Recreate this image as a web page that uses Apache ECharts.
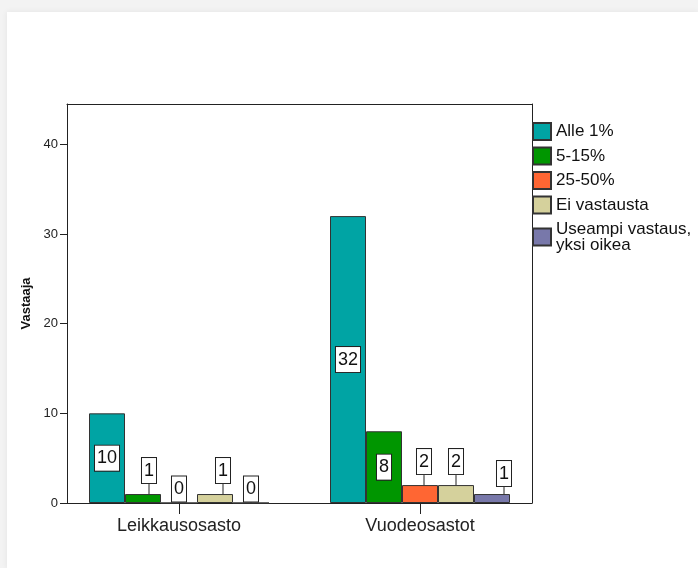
<!DOCTYPE html>
<html><head><meta charset="utf-8">
<script src="https://cdn.jsdelivr.net/npm/echarts@6/dist/echarts.min.js"></script>
<style>
html,body{margin:0;padding:0;width:698px;height:568px;overflow:hidden;background:#f3f3f3;}
#card{position:absolute;left:7px;top:12px;right:0;bottom:0;background:#fff;box-shadow:0 0 6px rgba(0,0,0,0.07);}
#chart{position:absolute;left:0;top:0;width:698px;height:568px;}
</style></head><body>
<div id="card"></div><div id="chart"></div>
<script>
// ---- data ----
var categories = ['Leikkausosasto', 'Vuodeosastot'];
var seriesNames = ['Alle 1%', '5-15%', '25-50%', 'Ei vastausta', 'Useampi vastaus,\nyksi oikea'];
var alle1 = [10, 32];
var p5to15 = [1, 8];
var p25to50 = [0, 2];
var eiVastausta = [1, 2];
var useampi = [0, 1];
var yTicks = [0, 10, 20, 30, 40];
var yAxisName = 'Vastaaja';

// ---- style ----
var seriesValues = [alle1, p5to15, p25to50, eiVastausta, useampi];
var colors = ['#00a4a4', '#009600', '#ff6633', '#d5d19c', '#7878aa'];
var labelNudgeX = [[0, 0], [6, 0], [0, 4], [8, 0], [0, 12]];
var labelLift = [[10, 10], [10, 10], [10, 10], [10, 10], [7, 7]];
var FONT = '"Liberation Sans", Arial, sans-serif';
var YMAX = 44.5;

var labelBase = {
  show: true, fontSize: 18, lineHeight: 18, fontFamily: FONT, color: '#111',
  backgroundColor: '#fff', borderColor: '#222', borderWidth: 1, padding: [4, 2, 3, 2]
};

var series = seriesValues.map(function (vals, si) {
  return {
    name: seriesNames[si], type: 'bar', xAxisIndex: 2, yAxisIndex: 2,
    barWidth: 36, barGap: '0%',
    itemStyle: { color: colors[si], borderColor: '#333', borderWidth: 1 },
    label: labelBase,
    labelLine: { show: true, lineStyle: { color: '#222', width: 1 } },
    labelLayout: function (p) {
      var v = seriesValues[p.seriesIndex][p.dataIndex];
      if (v > 0 && v < 5) {
        return { dx: labelNudgeX[p.seriesIndex][p.dataIndex], dy: -labelLift[p.seriesIndex][p.dataIndex] };
      }
      return {};
    },
    data: vals.map(function (v) {
      return { value: v, label: { position: v >= 5 ? 'inside' : 'top', distance: v >= 5 ? 5 : 1 } };
    })
  };
});

var frameAxis = function (extra) {
  return Object.assign({
    type: 'value', min: 0, max: 1, splitLine: { show: false },
    axisLabel: { show: false }, axisTick: { show: false },
    axisLine: { show: true, onZero: false, lineStyle: { color: '#222', width: 1 } }
  }, extra);
};

var chart = echarts.init(document.getElementById('chart'), null, { renderer: 'canvas' });
chart.setOption({
  animation: false,
  textStyle: { fontFamily: FONT },
  grid: [
    { left: 67, top: 104, width: 465, height: 399 },
    { left: 58.5, top: 104, width: 482, height: 399 }
  ],
  xAxis: [
    frameAxis({ gridIndex: 0, position: 'bottom' }),
    frameAxis({ gridIndex: 0, position: 'top' }),
    {
      gridIndex: 1, type: 'category', data: categories, position: 'bottom',
      axisLine: { show: false, onZero: false },
      axisTick: { show: true, alignWithLabel: true, length: 11, lineStyle: { color: '#222' } },
      axisLabel: { fontSize: 18, color: '#222', margin: 14, fontFamily: FONT },
      splitLine: { show: false }
    }
  ],
  yAxis: [
    {
      gridIndex: 0, type: 'value', min: 0, max: YMAX, position: 'left',
      name: yAxisName, nameLocation: 'middle', nameGap: 27,
      nameTextStyle: { fontSize: 13, fontWeight: 'bold', color: '#111', fontFamily: FONT },
      axisLine: { show: true, onZero: false, lineStyle: { color: '#222', width: 1 } },
      axisTick: { show: true, length: 7, customValues: yTicks, lineStyle: { color: '#222' } },
      axisLabel: { fontSize: 13, color: '#222', margin: 9, customValues: yTicks, fontFamily: FONT },
      splitLine: { show: false }
    },
    frameAxis({ gridIndex: 0, position: 'right', max: YMAX }),
    { gridIndex: 1, type: 'value', min: 0, max: YMAX, show: false }
  ],
  legend: {
    orient: 'vertical', left: 532, top: 122, padding: 0,
    itemWidth: 18, itemHeight: 17, itemGap: 5.5, icon: 'rect', selectedMode: false,
    textStyle: { fontSize: 17, color: '#111', fontFamily: FONT },
    data: seriesNames.map(function (n, i) {
      return i === seriesNames.length - 1
        ? { name: n, textStyle: { lineHeight: 16, padding: [2, 0, 0, 0] } }
        : { name: n };
    })
  },
  series: series
});
</script>
</body></html>
